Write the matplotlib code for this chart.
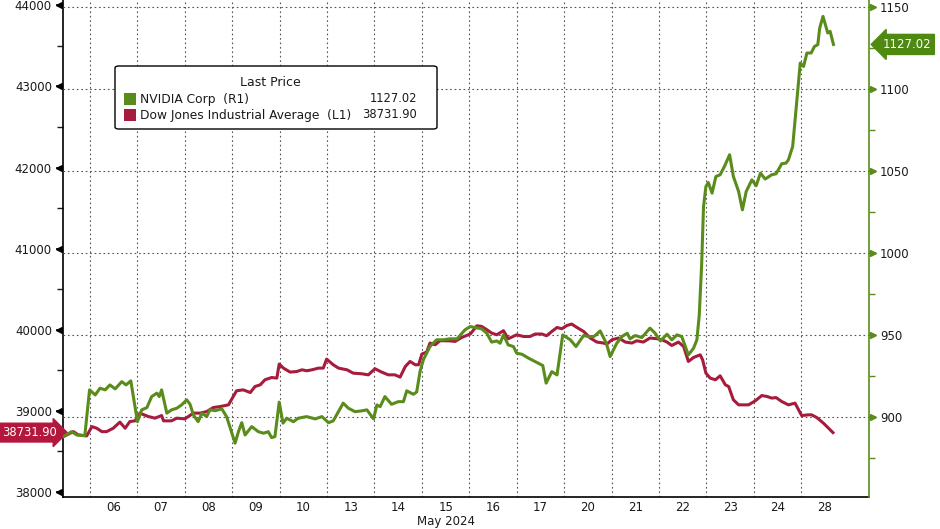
import matplotlib
matplotlib.use("Agg")
import matplotlib.pyplot as plt
import matplotlib.transforms as mtransforms
from matplotlib.patches import FancyBboxPatch, Rectangle
import numpy as np

# ---------------- data ----------------
# x = trading-session position (0 = start of 06 May session, 1 day per unit)
day_labels = ["06", "07", "08", "09", "10", "13", "14", "15",
              "16", "17", "20", "21", "22", "23", "24", "28"]
month_label = "May 2024"

djia_t = [-0.56, -0.35, -0.25, -0.07, 0.04, 0.14, 0.25, 0.35, 0.49, 0.63, 0.74, 0.84, 0.95,
          1.05, 1.23, 1.37, 1.51, 1.55, 1.72, 1.83, 2.00, 2.18, 2.32, 2.46, 2.60, 2.74, 2.92,
          3.09, 3.23, 3.38, 3.48, 3.59, 3.69, 3.83, 3.94, 3.99, 4.08, 4.22, 4.36, 4.47, 4.57,
          4.68, 4.82, 4.92, 4.99, 5.13, 5.24, 5.42, 5.55, 5.73, 5.87, 6.01, 6.15, 6.29, 6.43,
          6.54, 6.65, 6.75, 6.86, 6.93, 7.00, 7.10, 7.17, 7.28, 7.38, 7.56, 7.70, 7.84, 8.02,
          8.16, 8.26, 8.37, 8.47, 8.58, 8.72, 8.82, 9.00, 9.14, 9.28, 9.39, 9.53, 9.63, 9.74,
          9.85, 9.95, 10.06, 10.16, 10.27, 10.41, 10.55, 10.69, 10.83, 10.90, 11.01, 11.15,
          11.29, 11.43, 11.53, 11.67, 11.81, 11.96, 12.06, 12.17, 12.27, 12.41, 12.52, 12.62,
          12.73, 12.87, 12.92, 12.99, 13.08, 13.19, 13.29, 13.40, 13.47, 13.57, 13.68, 13.89,
          14.03, 14.17, 14.28, 14.38, 14.47, 14.59, 14.73, 14.87, 15.01, 15.15, 15.22, 15.33,
          15.47, 15.67]
djia = [38683, 38744, 38704, 38691, 38806, 38786, 38744, 38744, 38786, 38861, 38786, 38868, 38877,
        38972, 38930, 38910, 38942, 38877, 38877, 38910, 38901, 38972, 38972, 38991, 39041, 39053, 39074,
        39247, 39259, 39226, 39300, 39321, 39383, 39411, 39404, 39577, 39527, 39478, 39485, 39506, 39494,
        39506, 39527, 39527, 39638, 39568, 39527, 39506, 39465, 39457, 39444, 39519, 39478, 39444, 39444,
        39416, 39547, 39609, 39568, 39568, 39700, 39725, 39836, 39815, 39864, 39864, 39856, 39905, 39947,
        40049, 40041, 40000, 39959, 39938, 39988, 39889, 39938, 39917, 39917, 39947, 39947, 39926, 39979,
        40028, 40012, 40053, 40070, 40028, 39979, 39898, 39848, 39836, 39823, 39877, 39898,
        39848, 39836, 39864, 39848, 39898, 39889, 39877, 39848, 39806, 39848, 39794, 39609,
        39658, 39691, 39630, 39465, 39404, 39383, 39432, 39321, 39300, 39136, 39074, 39074,
        39123, 39189, 39177, 39157, 39164, 39115, 39074, 39095, 38942, 38951, 38951, 38917,
        38848, 38731.90]

nvda_t = [-0.56, -0.39, -0.28, -0.11, -0.01, 0.11, 0.21, 0.32, 0.42, 0.53, 0.67, 0.76, 0.86,
          1.00, 1.09, 1.20, 1.30, 1.41, 1.46, 1.51, 1.62, 1.72, 1.83, 1.93, 2.04, 2.11, 2.18,
          2.28, 2.36, 2.46, 2.53, 2.64, 2.78, 2.88, 3.06, 3.13, 3.20, 3.27, 3.41, 3.55, 3.66,
          3.76, 3.83, 3.90, 3.99, 4.07, 4.15, 4.29, 4.39, 4.57, 4.75, 4.89, 5.03, 5.13, 5.20,
          5.34, 5.45, 5.59, 5.73, 5.84, 5.98, 6.05, 6.12, 6.22, 6.36, 6.50, 6.61, 6.68, 6.82,
          6.89, 6.96, 7.03, 7.17, 7.31, 7.45, 7.59, 7.74, 7.91, 8.02, 8.12, 8.26, 8.37, 8.47,
          8.58, 8.65, 8.72, 8.82, 8.93, 9.00, 9.11, 9.25, 9.39, 9.55, 9.62, 9.74, 9.85, 9.97,
          10.13, 10.25, 10.41, 10.51, 10.63, 10.76, 10.89, 10.97, 11.11, 11.22, 11.33, 11.39,
          11.50, 11.64, 11.81, 11.92, 12.03, 12.17, 12.27, 12.38, 12.48, 12.62, 12.73, 12.80,
          12.85, 12.90, 12.94, 12.99, 13.04, 13.12, 13.20, 13.29, 13.38, 13.49, 13.57, 13.68,
          13.76, 13.84, 13.96, 14.05, 14.14, 14.24, 14.38, 14.47, 14.59, 14.68, 14.73, 14.82,
          14.89, 14.98, 15.05, 15.12, 15.21, 15.28, 15.35, 15.39, 15.46, 15.56, 15.61, 15.68]
nvda = [888.0, 891.0, 889.0, 888.6, 916.5, 913.4, 917.5, 916.5, 919.5, 917.1, 921.5, 919.5, 922.0,
        897.1, 904.3, 905.7, 912.4, 914.5, 912.4, 916.5, 902.3, 904.3, 905.3, 907.3, 910.4, 907.7, 901.2,
        897.1, 902.3, 900.2, 904.3, 903.8, 904.9, 900.2, 884.0, 891.0, 896.5, 889.0, 894.1, 891.0, 890.1,
        891.0, 887.4, 888.0, 909.0, 896.2, 899.2, 897.1, 899.2, 900.2, 898.8, 900.2, 896.5, 897.6, 901.2,
        908.4, 905.3, 903.2, 903.7, 904.3, 898.8, 907.3, 906.3, 912.4, 907.7, 909.3, 909.3, 915.9, 913.8,
        915.2, 927.6, 934.8, 942.9, 947.0, 947.0, 947.6, 947.6, 953.1, 955.1, 954.5, 953.7, 951.0, 945.6,
        946.3, 944.9, 950.0, 943.9, 942.9, 938.8, 938.2, 935.8, 933.7, 931.3, 920.6, 927.6, 925.6, 950.0,
        947.0, 942.9, 949.6, 949.0, 949.0, 952.4, 944.9, 936.8, 944.9, 949.0, 951.0, 947.6,
        949.6, 948.4, 954.1, 951.0, 946.3, 950.4, 947.0, 950.0, 949.0, 937.8, 941.9, 947.0,
        962.2, 992.7, 1028.2, 1040.4, 1042.9, 1036.4, 1046.5, 1047.6, 1052.6, 1059.8, 1046.5, 1037.4,
        1026.2, 1037.4, 1044.5, 1040.9, 1048.6, 1045.0, 1047.6, 1048.2, 1054.3, 1054.7, 1056.7, 1064.8,
        1087.2, 1115.7, 1113.6, 1121.8, 1121.8, 1125.8, 1126.9, 1137.0, 1144.1, 1134.0, 1135.0, 1127.02]

nvda_name = "NVIDIA Corp  (R1)"
djia_name = "Dow Jones Industrial Average  (L1)"
legend_title = "Last Price"

left_ticks = [38000, 39000, 40000, 41000, 42000, 43000, 44000]
left_minor = [38500, 39500, 40500, 41500, 42500, 43500]
right_ticks = [900, 950, 1000, 1050, 1100, 1150]
right_minor = [875, 925, 975, 1025, 1075, 1125]

# ---------------- style ----------------
GREEN = "#5a8c1c"
GREEN_BOX = "#4e8a12"
RED = "#a61c3c"
RED_BOX = "#b3183c"
TXT = "#1a1a1a"
GRID = "#555555"

plt.rcParams["font.family"] = ["DejaVu Sans"]
plt.rcParams["font.size"] = 8

W, H = 940, 529
fig = plt.figure(figsize=(W / 100, H / 100), dpi=100)
fig.patch.set_facecolor("white")

L, R, B, T = 63, 869, 497, 0
ax = fig.add_axes([L / W, 1 - B / H, (R - L) / W, (B - T) / H])
ax2 = ax.twinx()

ax.set_xlim(-0.57, 16.43)
ax.set_ylim(37938, 44065)
ax2.set_ylim(851.2, 1154.1)

# lines
ax.plot(djia_t, djia, color=RED, lw=2.2, solid_joinstyle="round", zorder=3)
ax2.plot(nvda_t, nvda, color=GREEN, lw=2.2, solid_joinstyle="round", zorder=3)

# x axis: day boundaries as grid, labels at centres
n = len(day_labels)
ax.set_xticks(np.arange(n) + 0.5)
ax.set_xticklabels(day_labels)
ax.set_xticks(np.arange(n), minor=True)
ax.tick_params(axis="x", which="both", length=0, pad=3, labelsize=8.5, colors=TXT)
ax.grid(axis="x", which="minor", linestyle=(0, (1.5, 2.5)), color=GRID, lw=0.8)
ax.text(7.5, -0.05, month_label, transform=ax.get_xaxis_transform(),
        ha="center", va="center", fontsize=8.5, color=TXT)

# left axis
ax.set_yticks(left_ticks)
ax.set_yticklabels([str(v) for v in left_ticks])
ax.set_yticks(left_minor, minor=True)
ax.tick_params(axis="y", which="major", length=5, width=1.2, pad=3, labelsize=8.5,
               colors=TXT, direction="out")
ax.tick_params(axis="y", which="minor", length=4, width=1.0, color=TXT, direction="out")

# right axis
ax2.set_yticks(right_ticks)
ax2.set_yticklabels([str(v) for v in right_ticks])
ax2.set_yticks(right_minor, minor=True)
ax2.tick_params(axis="y", which="major", length=5, width=1.2, pad=3, labelsize=8.5,
                labelcolor=TXT, color=GREEN, direction="out")
ax2.tick_params(axis="y", which="minor", length=4, width=1.0, color=GREEN, direction="out")
ax2.grid(axis="y", which="major", linestyle=(0, (1.5, 2.5)), color=GRID, lw=0.8)

for a in (ax, ax2):
    a.spines["top"].set_visible(False)
    a.set_facecolor("none")
ax.spines["left"].set_color("black")
ax.spines["bottom"].set_color("black")
ax.spines["left"].set_linewidth(1.2)
ax.spines["bottom"].set_linewidth(1.2)
ax.spines["right"].set_visible(False)
ax2.spines["left"].set_visible(False)
ax2.spines["bottom"].set_visible(False)
ax2.spines["right"].set_color(GREEN)
ax2.spines["right"].set_linewidth(1.2)

# triangle tick markers
tl = mtransforms.offset_copy(ax.get_yaxis_transform(), fig=fig, x=-4, y=0, units="dots")
ax.plot([0] * len(left_ticks), left_ticks, linestyle="none", marker="<", ms=5,
        color="black", transform=tl, clip_on=False)
tr = mtransforms.offset_copy(ax2.get_yaxis_transform(), fig=fig, x=4, y=0, units="dots")
ax2.plot([1] * len(right_ticks), right_ticks, linestyle="none", marker=">", ms=5,
         color=GREEN, transform=tr, clip_on=False)

# last price tags
ax.annotate(f"{djia[-1]:.2f}", xy=(0, djia[-1]), xycoords=ax.get_yaxis_transform(),
            xytext=(-24, 0), textcoords="offset points", ha="center", va="center",
            fontsize=8.3, color="white",
            bbox=dict(boxstyle="rarrow,pad=0.25", fc=RED_BOX, ec=RED_BOX))
ax2.annotate(f"{nvda[-1]:.2f}", xy=(1, nvda[-1]), xycoords=ax2.get_yaxis_transform(),
             xytext=(27, 0), textcoords="offset points", ha="center", va="center",
             fontsize=8.5, color="white",
             bbox=dict(boxstyle="larrow,pad=0.3", fc=GREEN_BOX, ec=GREEN_BOX))

# legend box (figure pixel coordinates -> fractions)
def fx(px):
    return px / W

def fy(py):
    return 1 - py / H

box = FancyBboxPatch((fx(115), fy(129)), fx(437) - fx(115), fy(66) - fy(129),
                     boxstyle="round,pad=0,rounding_size=0.004",
                     transform=fig.transFigure, fc="white", ec="black", lw=1.0, zorder=10)
fig.add_artist(box)
fig.text(fx(270), fy(83), legend_title, ha="center", va="center", fontsize=9,
         color=TXT, zorder=11)
rows = [(nvda_name, f"{nvda[-1]:.2f}", GREEN, 99), (djia_name, f"{djia[-1]:.2f}", RED, 115)]
for name, val, col, yy in rows:
    sq = Rectangle((fx(124), fy(yy + 6)), fx(12), 12 / H, transform=fig.transFigure,
                   fc=col, ec="none", zorder=11)
    fig.add_artist(sq)
    fig.text(fx(140), fy(yy), name, ha="left", va="center", fontsize=8.8, color=TXT, zorder=11)
    fig.text(fx(417), fy(yy), val, ha="right", va="center", fontsize=8.3, color=TXT, zorder=11)

fig.savefig("out.png", dpi=100, facecolor="white")
